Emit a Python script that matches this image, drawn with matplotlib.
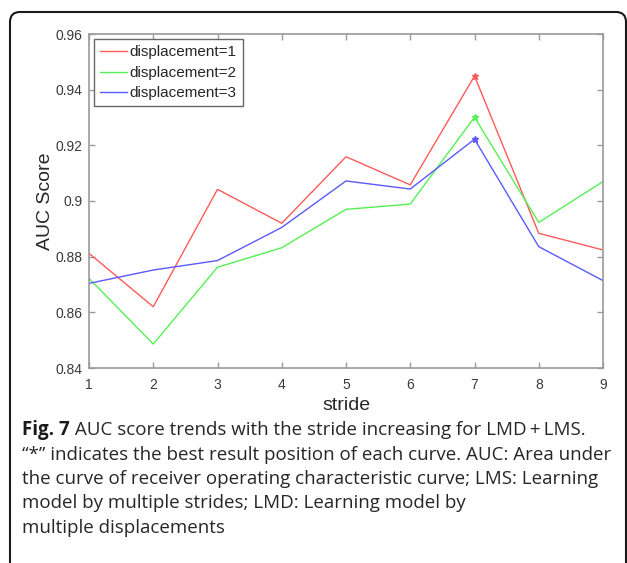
import matplotlib
matplotlib.use("Agg")
import matplotlib.pyplot as plt
import matplotlib.transforms as mtransforms
from matplotlib.patches import FancyBboxPatch

# AUC score per stride for each displacement setting
strides = [1, 2, 3, 4, 5, 6, 7, 8, 9]
auc_disp1 = [0.8812, 0.8620, 0.9042, 0.8920, 0.9159, 0.9058, 0.9449, 0.8884, 0.8824]
auc_disp2 = [0.8722, 0.8486, 0.8762, 0.8832, 0.8970, 0.8989, 0.9301, 0.8923, 0.9070]
auc_disp3 = [0.8704, 0.8752, 0.8786, 0.8905, 0.9072, 0.9043, 0.9222, 0.8836, 0.8714]
series_labels = ["displacement=1", "displacement=2", "displacement=3"]
y_ticks = [0.84, 0.86, 0.88, 0.90, 0.92, 0.94, 0.96]
y_tick_labels = ["0.84", "0.86", "0.88", "0.9", "0.92", "0.94", "0.96"]

caption_bold = "Fig. 7"
caption_lines = [
    " AUC score trends with the stride increasing for LMD\u2009+\u2009LMS.",
    "\u201c*\u201d indicates the best result position of each curve. AUC: Area under",
    "the curve of receiver operating characteristic curve; LMS: Learning",
    "model by multiple strides; LMD: Learning model by",
    "multiple displacements",
]

W, H = 627, 563
fig = plt.figure(figsize=(W / 100, H / 100), dpi=100)
fig.patch.set_facecolor("white")

ax = fig.add_axes([89 / W, 1 - 368 / H, (603 - 89) / W, (368 - 34) / H])

colors = ["#ff5a5a", "#55f055", "#5a5aff"]
for vals, c, lab in zip([auc_disp1, auc_disp2, auc_disp3], colors, series_labels):
    ax.plot(strides, vals, color=c, lw=1.0, label=lab)
    best = max(range(len(vals)), key=lambda i: vals[i])
    ax.plot(strides[best], vals[best], marker="*", ms=5, color=c, mec=c, ls="none")

ax.set_xlim(1, 9)
ax.set_ylim(0.84, 0.96)
ax.set_xticks(strides)
ax.set_xticklabels([str(s) for s in strides])
ax.set_yticks(y_ticks)
ax.set_yticklabels(y_tick_labels)

spine_col = "#9a9a9a"
for s in ax.spines.values():
    s.set_color(spine_col)
    s.set_linewidth(1.2)
ax.tick_params(direction="in", length=4, width=1.0, color=spine_col,
               top=True, right=True, labelsize=10, labelcolor="#3a3a3a",
               labelfontfamily="Liberation Sans")
ax.tick_params(axis="x", pad=7)
ax.tick_params(axis="y", pad=4.5)

ax.set_xlabel("stride", fontsize=14, family="Liberation Sans", color="#262626", labelpad=4)
ax.set_ylabel("AUC Score", fontsize=14, family="Liberation Sans", color="#262626", labelpad=1)

leg = ax.legend(loc="upper left", prop={"family": "Liberation Sans", "size": 11},
                frameon=True, fancybox=False, edgecolor="#666666", framealpha=1,
                borderaxespad=0.35, handlelength=1.75, handletextpad=0.15,
                labelspacing=0.42, borderpad=0.4)
leg.get_frame().set_linewidth(1.0)
for t in leg.get_texts():
    t.set_color("#262626")

# rounded caption box border, in pixel coordinates
px = mtransforms.Affine2D().scale(1 / W, 1 / H) + fig.transFigure
box = FancyBboxPatch((10, -40), 616, H - 12 + 40,
                     boxstyle="round,pad=0,rounding_size=10",
                     transform=px, fill=False, ec="#1a1a1a", lw=1.5, clip_on=False)
fig.add_artist(box)

# caption
cap_font = "Open Sans"
cap_size = 13.5
x0, base0, step = 22, 435, 24.5
tb = fig.text(x0 / W, 1 - base0 / H, caption_bold, fontsize=cap_size, family=cap_font,
              weight="bold", color="#1a1a1a", va="baseline", ha="left")
fig.canvas.draw()
bb = tb.get_window_extent()
fig.text(bb.x1 / W, 1 - base0 / H, caption_lines[0], fontsize=cap_size, family=cap_font,
         color="#262626", va="baseline", ha="left")
for i, line in enumerate(caption_lines[1:], start=1):
    fig.text(x0 / W, 1 - (base0 + i * step) / H, line, fontsize=cap_size, family=cap_font,
             color="#262626", va="baseline", ha="left")

fig.savefig("out.png", dpi=100, facecolor="white")
